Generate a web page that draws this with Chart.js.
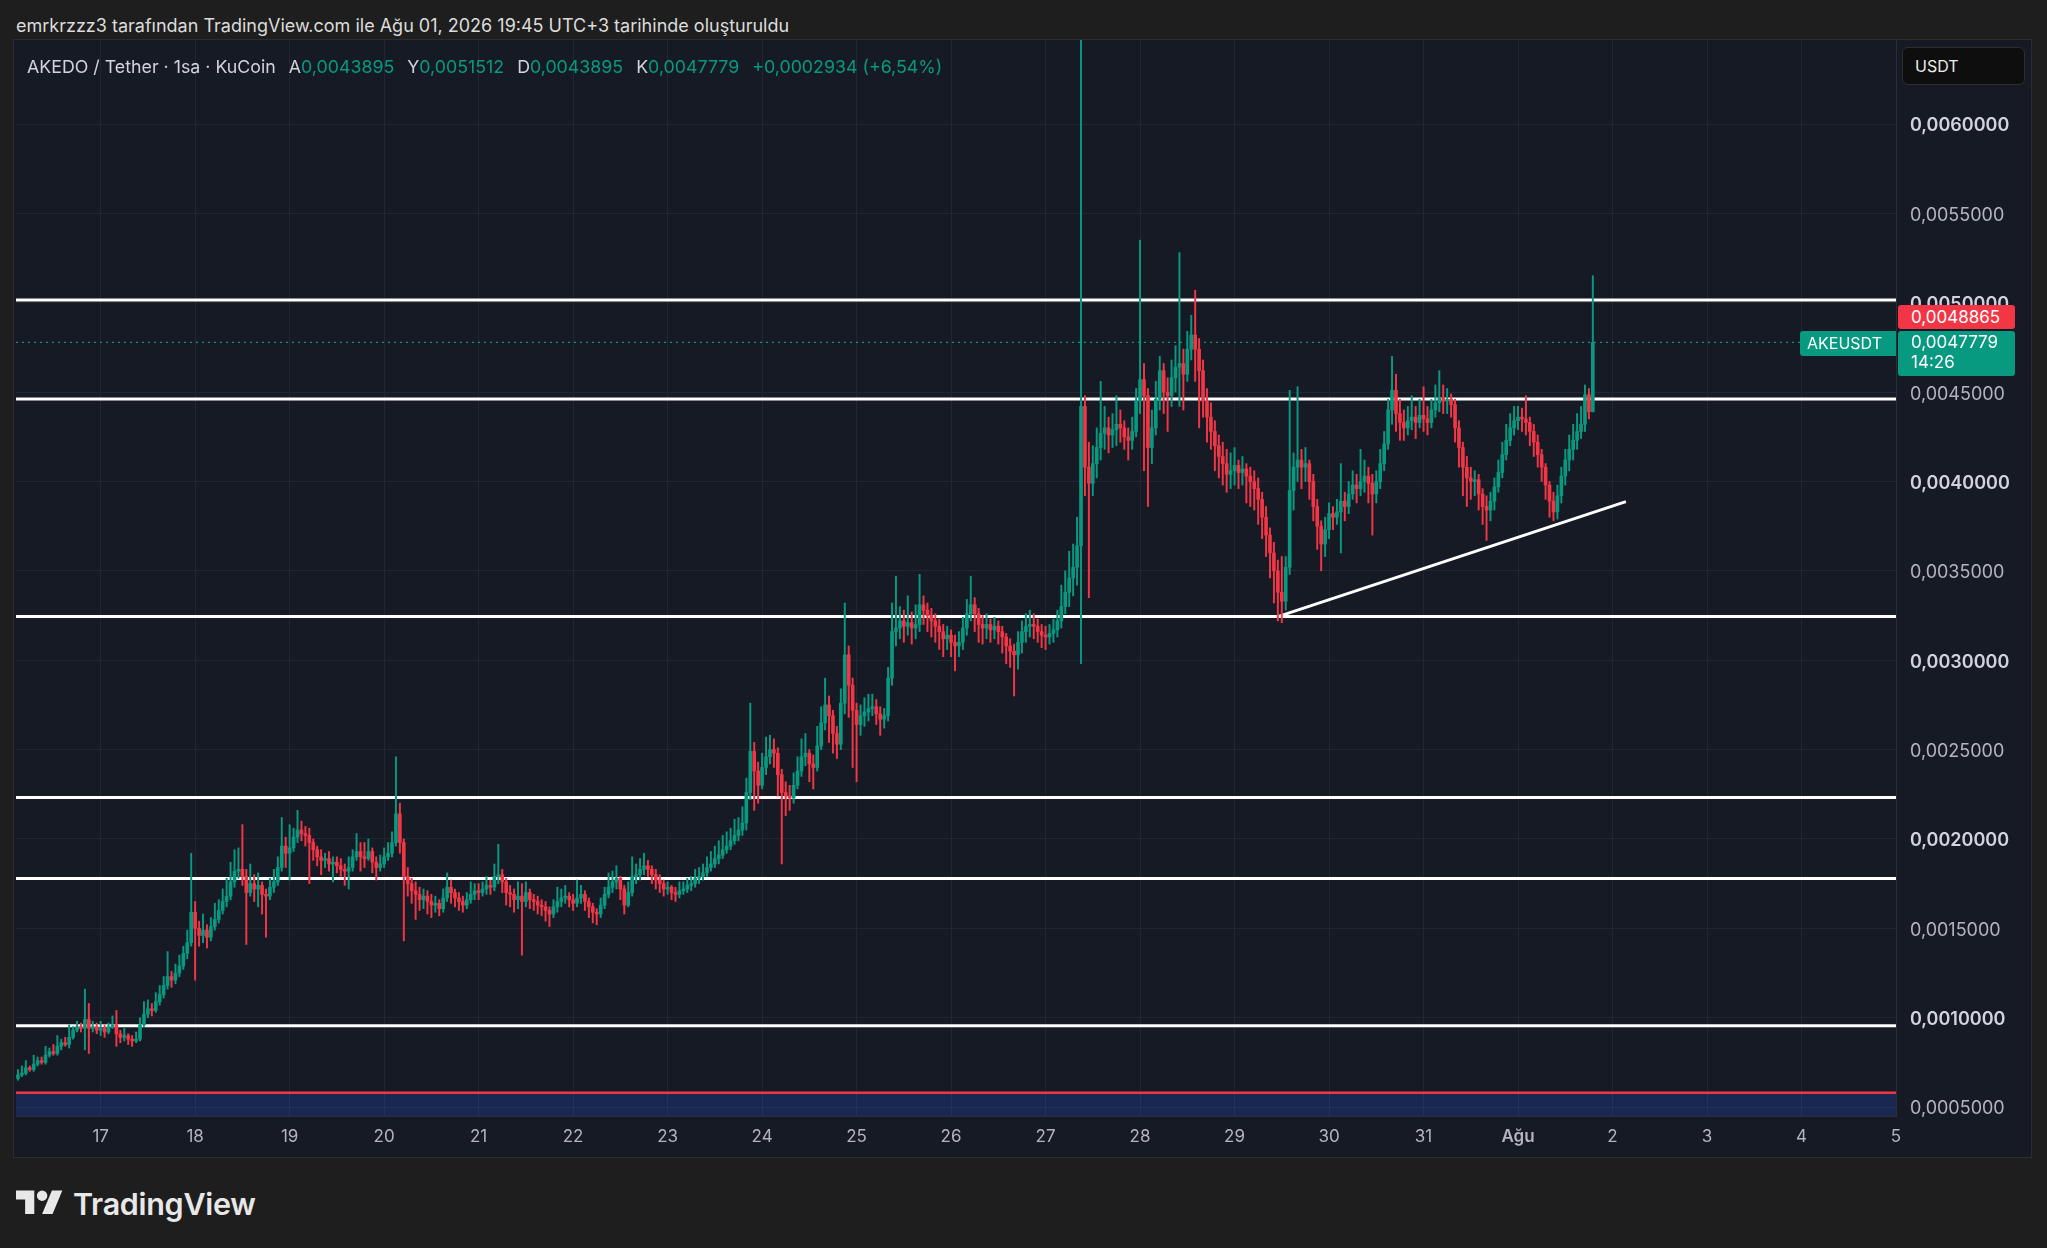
<!DOCTYPE html>
<html lang="tr">
<head>
<meta charset="utf-8">
<title>AKEDO / Tether · 1sa · KuCoin</title>
<script src="https://cdn.jsdelivr.net/npm/chart.js@4.4.1/dist/chart.umd.min.js"></script>
<style>
    html, body { margin: 0; padding: 0; width: 2047px; height: 1248px; overflow: hidden; background: #1e1e1e; font-family: Inter, "Noto Sans", sans-serif; }
    #title { position: absolute; left: 16px; top: 15px; font-size: 18px; line-height: 22px; color: #dcdcdc; white-space: nowrap; }
    #frame { position: absolute; left: 14px; top: 40px; width: 2017px; height: 1117px; background: #161a25; box-shadow: 0 0 0 1px #2c2c2c; }
    #chart { position: absolute; left: 0; top: 0; }
    #legend { position: absolute; left: 13px; top: 15px; font-size: 17.8px; line-height: 24px; color: #d1d4dc; white-space: nowrap; }
    #legend .v { color: #089981; }
    #legend .g { margin-left: 13px; }
    #unit { position: absolute; left: 1888px; top: 7px; width: 123px; height: 38px; box-sizing: border-box; background: #0e0e0e; border: 1px solid #2e2e2e; border-radius: 6px; color: #ececec; font-size: 16px; line-height: 36px; padding-left: 12px; }
    .tag { position: absolute; color: #ffffff; font-size: 17px; line-height: 20px; box-sizing: border-box; white-space: nowrap; }
    #tagMark { left: 1884px; width: 117px; height: 24px; background: #f23645; border-radius: 3px; padding: 2px 0 0 13px; }
    #tagLast { left: 1884px; width: 117px; height: 45px; background: #089981; border-radius: 3px; padding: 1px 0 0 13px; }
    #tagName { left: 1786px; width: 96px; height: 25px; background: #089981; border-radius: 3px 0 0 3px; padding: 2px 0 0 7px; font-size: 16px; }
    #logo { position: absolute; left: 16px; top: 1185px; height: 37px; display: flex; align-items: center; color: #e8e8e8; }
    #logo span { font-size: 30.5px; font-weight: 600; margin-left: 10px; letter-spacing: -0.3px; }
</style>
</head>
<body>
<div id="title">emrkrzzz3 tarafından TradingView.com ile Ağu 01, 2026 19:45 UTC+3 tarihinde oluşturuldu</div>
<div id="frame">
    <canvas id="chart" width="2017" height="1117"></canvas>
    <div id="legend">AKEDO / Tether · 1sa · KuCoin<span class="g">A</span><span class="v">0,0043895</span><span class="g">Y</span><span class="v">0,0051512</span><span class="g">D</span><span class="v">0,0043895</span><span class="g">K</span><span class="v">0,0047779</span><span class="g v">+0,0002934 (+6,54%)</span></div>
    <div id="unit">USDT</div>
    <div id="tagMark" class="tag">0,0048865</div>
    <div id="tagLast" class="tag">0,0047779<br>14:26</div>
    <div id="tagName" class="tag">AKEUSDT</div>
</div>
<div id="logo">
    <svg width="47" height="37" viewBox="0 0 36 28" fill="#e8e8e8"><path d="M14 22H7V11H0V4h14v18zM28 22h-8l7.5-18h8L28 22z"/><circle cx="20" cy="8" r="4"/></svg>
    <span>TradingView</span>
</div>

<script>
    "use strict";

    // hourly candles, x = hours since 16 Tem 00:00, prices in units of 1e-4 USDT
    var firstHour = 3;
    var firstOpen = 6.6;
    var priceUnit = 1e-4;

    var closes = [
        6.8, 6.9, 7.2, 7.1, 7.4, 7.6, 7.5, 7.9, 8.1, 8.0, 8.4, 8.6, 8.5, 8.9, 9.3, 9.5, 9.4, 9.9, 9.4, 9.5, 9.3,
        9.4, 9.2, 9.5, 9.6, 9.1, 8.9, 9.0, 8.8, 8.7, 8.8, 9.6, 10.2, 10.5, 10.4, 10.9, 11.3, 11.8, 12.3, 12.1, 12.5, 12.9, 13.6, 14.2, 15.9,
        15.0, 14.6, 14.9, 14.5, 15.1, 15.5, 16.0, 16.5, 16.8, 17.6, 18.2, 18.3, 17.9, 17.0, 17.5, 17.2, 17.4, 16.9, 16.8, 17.3, 17.6, 18.4, 19.6, 19.2,
        19.5, 20.1, 20.5, 20.3, 20.2, 19.8, 19.4, 19.0, 18.8, 18.9, 18.6, 18.7, 18.5, 18.3, 18.2, 18.4, 19.0, 19.3, 19.0, 18.9, 19.3, 18.7, 18.4, 18.6,
        19.0, 19.2, 19.8, 21.4, 19.8, 17.9, 17.5, 17.1, 16.9, 16.6, 16.8, 16.5, 16.3, 16.4, 16.1, 16.7, 17.3, 17.0, 16.7, 16.5, 16.3, 16.6, 16.9, 17.1,
        17.0, 17.2, 17.4, 17.3, 17.9, 18.0, 17.6, 17.0, 16.9, 16.6, 16.8, 16.5, 17.0, 16.6, 16.5, 16.3, 16.2, 16.0, 15.8, 16.2, 16.5, 16.7, 16.8, 16.6,
        16.4, 16.7, 16.9, 16.5, 16.2, 15.9, 15.8, 16.3, 16.9, 17.3, 17.6, 17.8, 17.2, 16.3, 17.0, 17.9, 18.0, 18.3, 18.5, 18.3, 18.0, 17.7, 17.5, 17.2,
        17.3, 17.0, 16.9, 17.1, 17.2, 17.4, 17.5, 17.8, 17.9, 18.1, 18.4, 18.6, 18.9, 19.1, 19.4, 19.6, 19.9, 20.2, 20.5, 20.9, 22.6, 24.9, 23.8, 23.0,
        24.0, 24.6, 25.0, 24.8, 23.6, 22.6, 22.4, 22.3, 23.0, 23.8, 24.6, 24.8, 24.2, 24.0, 25.2, 26.5, 27.5, 26.9, 25.9, 25.3, 27.6, 30.3, 28.6, 27.2,
        26.4, 26.9, 27.1, 27.3, 27.4, 27.0, 26.7, 26.9, 29.0, 31.6, 31.8, 32.2, 31.9, 32.1, 31.8, 32.0, 33.1, 32.8, 32.5, 32.2, 31.9, 31.6, 31.2, 31.4,
        31.0, 30.8, 31.0, 31.8, 32.6, 33.1, 32.6, 32.0, 31.8, 32.0, 31.7, 31.9, 31.6, 31.3, 30.8, 30.5, 30.3, 31.0, 31.6, 31.9, 32.0, 31.9, 31.6, 31.4,
        31.3, 31.5, 31.7, 32.2, 33.0, 33.8, 34.6, 35.2, 36.4, 44.2, 40.8, 39.9, 41.0, 41.9, 42.7, 43.0, 42.6, 42.9, 43.2, 43.0, 42.5, 42.3, 42.8, 44.5,
        45.7, 44.8, 41.9, 43.0, 44.6, 46.2, 45.0, 44.8, 45.8, 46.4, 46.6, 46.0, 47.4, 48.2, 47.4, 46.2, 44.5, 43.6, 42.8, 42.0, 41.4, 41.0, 40.4, 40.6,
        40.9, 40.5, 40.7, 40.3, 40.0, 39.6, 39.0, 38.0, 37.0, 36.0, 35.0, 33.8, 33.3, 35.2, 39.5, 40.8, 41.2, 40.8, 41.0, 40.0, 38.6, 37.5, 36.5, 37.3,
        38.2, 38.0, 38.3, 38.9, 38.6, 39.3, 39.8, 39.6, 40.0, 40.3, 39.9, 39.3, 40.0, 41.0, 42.1, 44.0, 45.1, 43.8, 43.3, 43.0, 43.4, 43.6, 43.3, 43.7,
        43.5, 43.3, 44.0, 44.4, 44.7, 44.5, 44.6, 44.3, 43.0, 41.9, 40.8, 40.2, 40.0, 40.1, 39.3, 38.6, 38.4, 38.9, 39.7, 40.5, 41.5, 42.3, 43.0, 43.4,
        43.6, 43.5, 43.3, 42.8, 42.2, 41.5, 40.8, 39.8, 38.9, 38.3, 39.2, 40.3, 41.2, 41.8, 42.3, 42.8, 43.2, 44.85, 43.9, 47.779
    ];

    var highs = [
        7.1, 7.3, 7.6, 7.3, 7.9, 7.8, 7.8, 8.4, 8.3, 8.5, 9.0, 8.8, 8.9, 9.6, 9.5, 9.8, 9.7, 11.6, 10.8, 9.8, 9.7,
        9.8, 9.6, 9.7, 10.1, 10.4, 9.3, 9.4, 9.1, 9.0, 9.2, 10.0, 10.9, 11.0, 10.8, 11.4, 11.8, 12.3, 13.7, 12.6, 13.0, 13.5, 14.0, 14.9, 19.2,
        16.5, 15.4, 15.8, 15.2, 15.6, 16.4, 16.6, 17.2, 17.8, 18.7, 19.4, 19.5, 20.8, 18.3, 18.6, 18.0, 18.1, 17.6, 17.2, 17.8, 18.3, 19.0, 21.2, 20.1,
        20.8, 20.6, 21.6, 21.0, 20.7, 20.6, 20.0, 19.6, 19.4, 19.2, 19.3, 19.0, 19.0, 18.9, 18.6, 19.0, 19.4, 20.3, 19.8, 19.8, 20.0, 19.5, 19.0, 19.1,
        19.5, 19.8, 20.4, 24.6, 22.0, 20.0, 18.4, 17.8, 17.6, 17.3, 17.2, 17.1, 16.9, 16.8, 16.6, 17.2, 18.1, 17.7, 17.2, 17.0, 16.8, 17.0, 17.6, 17.5,
        17.5, 17.6, 17.9, 17.7, 18.6, 19.7, 18.3, 17.8, 17.4, 17.2, 17.6, 17.5, 17.6, 17.2, 16.9, 16.8, 16.6, 16.5, 16.2, 16.6, 17.3, 17.2, 17.4, 17.0,
        16.9, 17.7, 17.4, 17.1, 16.7, 16.4, 16.1, 16.7, 17.3, 18.1, 18.2, 18.5, 17.9, 17.4, 17.6, 19.0, 18.6, 18.9, 19.2, 18.8, 18.5, 18.3, 18.0, 17.7,
        17.6, 17.4, 17.3, 17.6, 17.6, 17.8, 17.9, 18.3, 18.4, 18.6, 19.0, 19.3, 19.6, 19.9, 20.2, 20.4, 20.6, 21.1, 21.2, 21.8, 23.4, 27.6, 25.4, 24.3,
        24.8, 25.7, 25.8, 25.6, 25.1, 23.9, 23.2, 23.0, 23.7, 24.6, 25.6, 25.9, 25.0, 24.7, 26.3, 27.4, 29.0, 28.0, 27.2, 26.3, 28.4, 33.2, 30.8, 29.0,
        27.6, 27.5, 27.9, 28.1, 28.1, 27.8, 27.4, 27.3, 29.6, 33.2, 34.7, 33.0, 32.8, 33.6, 32.7, 33.1, 34.8, 33.6, 33.2, 32.9, 32.6, 32.3, 32.0, 31.9,
        31.7, 31.4, 31.6, 32.4, 33.4, 34.7, 33.5, 32.9, 32.5, 32.6, 32.3, 32.4, 32.2, 31.9, 31.5, 31.2, 30.9, 31.6, 32.2, 32.6, 32.8, 32.6, 32.3, 32.0,
        31.9, 32.0, 32.3, 32.8, 34.2, 35.0, 36.1, 36.5, 38.0, 70.0, 44.8, 42.2, 42.0, 43.0, 45.6, 44.2, 43.6, 43.8, 44.8, 44.0, 43.4, 43.0, 43.6, 45.2,
        53.5, 46.6, 45.2, 44.0, 45.6, 47.0, 46.6, 45.8, 46.8, 47.6, 52.8, 47.4, 48.4, 49.3, 50.7, 48.0, 46.8, 45.2, 44.4, 43.4, 42.6, 42.2, 41.8, 41.6,
        41.9, 41.2, 41.4, 41.0, 40.8, 40.6, 40.2, 39.4, 38.6, 37.4, 36.6, 35.6, 35.8, 35.8, 45.1, 41.6, 45.3, 41.8, 41.9, 41.2, 40.4, 39.0, 37.8, 38.0,
        38.8, 38.6, 39.0, 41.0, 39.4, 40.0, 40.6, 40.4, 41.8, 41.2, 40.8, 40.4, 40.6, 41.8, 42.8, 44.6, 47.0, 46.0, 44.6, 44.0, 44.2, 44.8, 44.2, 44.6,
        45.3, 44.2, 44.6, 45.4, 46.2, 45.4, 45.2, 44.9, 44.6, 43.4, 42.2, 41.4, 40.8, 40.6, 40.4, 39.6, 39.2, 39.4, 40.2, 41.2, 42.2, 43.2, 43.8, 44.2,
        44.2, 44.1, 44.8, 43.6, 43.2, 42.6, 41.8, 41.0, 40.0, 39.4, 39.8, 40.8, 41.8, 42.6, 43.2, 43.8, 44.2, 45.4, 45.2, 51.512
    ];

    var lows = [
        6.5, 6.7, 6.8, 7.0, 7.0, 7.3, 7.4, 7.4, 7.8, 7.9, 7.9, 8.2, 8.4, 8.3, 8.8, 9.2, 9.2, 8.2, 8.0, 9.2, 9.1,
        9.0, 8.9, 9.1, 9.4, 8.4, 8.6, 8.7, 8.5, 8.4, 8.6, 8.7, 9.5, 10.0, 10.1, 10.3, 10.7, 11.1, 11.6, 11.7, 11.9, 12.3, 12.7, 13.3, 14.0,
        12.1, 14.0, 14.2, 13.9, 14.3, 14.9, 15.3, 15.8, 16.2, 16.6, 17.3, 17.8, 17.4, 14.1, 16.8, 16.5, 16.2, 15.8, 14.5, 16.6, 17.0, 17.4, 18.2, 18.4,
        17.7, 19.3, 19.8, 19.9, 19.6, 17.5, 18.8, 18.5, 18.0, 18.4, 18.2, 17.6, 18.1, 17.9, 17.4, 17.2, 18.2, 18.8, 18.2, 18.4, 18.8, 18.1, 17.7, 18.2,
        18.4, 18.8, 19.0, 19.6, 19.2, 14.3, 16.8, 16.4, 15.5, 16.0, 16.1, 15.8, 15.6, 15.9, 15.7, 15.9, 16.5, 16.4, 16.2, 16.0, 15.9, 16.1, 16.4, 16.6,
        16.6, 16.8, 16.9, 16.9, 17.1, 17.5, 17.0, 16.3, 16.2, 15.9, 16.1, 13.5, 16.2, 16.1, 16.0, 15.8, 15.7, 15.4, 15.1, 15.6, 15.9, 16.2, 16.4, 16.2,
        16.0, 16.2, 16.4, 16.0, 15.6, 15.3, 15.2, 15.6, 16.1, 16.7, 17.0, 17.2, 16.6, 15.8, 16.2, 16.8, 17.5, 17.7, 18.0, 17.9, 17.5, 17.2, 17.0, 16.8,
        16.9, 16.6, 16.5, 16.7, 16.9, 17.0, 17.1, 17.3, 17.5, 17.7, 17.9, 18.2, 18.4, 18.6, 18.9, 19.2, 19.4, 19.7, 19.9, 20.2, 20.5, 22.2, 21.6, 22.0,
        22.8, 23.6, 24.2, 24.0, 22.4, 18.6, 21.3, 21.6, 22.0, 22.8, 23.5, 24.1, 23.2, 22.8, 23.8, 25.0, 26.1, 25.4, 24.8, 24.5, 25.0, 27.0, 26.8, 24.0,
        23.2, 25.8, 26.3, 26.6, 26.9, 26.4, 25.8, 26.2, 26.6, 28.6, 30.8, 31.2, 31.0, 31.4, 30.9, 31.2, 31.6, 32.0, 31.6, 31.3, 31.0, 30.6, 30.2, 30.6,
        30.2, 29.4, 30.2, 30.6, 31.4, 32.2, 31.6, 31.0, 30.9, 31.2, 31.0, 31.2, 30.9, 30.4, 29.8, 29.6, 28.0, 29.5, 30.4, 31.0, 31.3, 31.2, 31.0, 30.7,
        30.6, 30.9, 31.0, 31.3, 31.8, 32.6, 33.0, 33.6, 34.2, 29.8, 39.2, 33.5, 39.2, 40.2, 41.2, 41.8, 41.6, 41.9, 42.0, 42.2, 41.8, 41.2, 41.8, 42.5,
        43.8, 40.6, 38.6, 41.0, 42.6, 44.0, 43.8, 42.8, 44.2, 45.0, 44.2, 44.0, 45.6, 46.8, 45.6, 43.0, 43.6, 42.2, 41.8, 40.6, 40.2, 39.8, 39.4, 39.6,
        39.8, 39.6, 39.8, 38.8, 38.6, 38.4, 37.6, 36.8, 35.8, 34.6, 33.2, 32.2, 32.1, 32.8, 34.8, 38.4, 40.0, 39.6, 40.0, 39.0, 37.8, 36.2, 35.0, 35.8,
        36.8, 37.3, 37.6, 36.0, 37.8, 38.2, 39.0, 38.8, 39.2, 39.4, 38.8, 37.0, 38.8, 39.6, 40.6, 41.8, 43.2, 42.8, 42.3, 42.3, 42.6, 42.9, 42.4, 43.0,
        42.8, 42.6, 43.0, 43.6, 43.9, 43.8, 43.8, 43.6, 42.2, 40.8, 39.2, 38.6, 39.0, 39.2, 38.4, 37.6, 36.7, 37.8, 38.4, 39.4, 40.2, 41.2, 42.0, 42.6,
        42.9, 42.8, 42.6, 42.0, 41.4, 40.8, 40.0, 39.0, 38.0, 37.8, 37.9, 38.8, 39.8, 40.6, 41.2, 41.8, 42.4, 42.8, 43.5, 43.895
    ];

    var dayTicks = [24, 48, 72, 96, 120, 144, 168, 192, 216, 240, 264, 288, 312, 336, 360, 384, 408, 432, 456, 480];
    var dayLabels = ['17', '18', '19', '20', '21', '22', '23', '24', '25', '26', '27', '28', '29', '30', '31', 'Ağu', '2', '3', '4', '5'];
    var priceTicks = [0.0005, 0.001, 0.0015, 0.002, 0.0025, 0.003, 0.0035, 0.004, 0.0045, 0.005, 0.0055, 0.006];

    // drawings (1e-4 units)
    var levels = [50.15, 44.62, 32.45, 22.32, 17.79, 9.55];
    var supportLevel = 5.8;
    var trendLine = [[323.2, 32.45], [411.4, 38.87]];
    var lastPrice = 47.779;
    var markPrice = 48.865;

    var xMin = 2.5, xMax = 480;
    var upColor = '#089981', downColor = '#f23645';
    var gridColor = '#222631';
    var fontFamily = 'Inter, "Noto Sans", sans-serif';

    var bodies = [], wicks = [], colors = [];
    var prev = firstOpen;
    for (var i = 0; i < closes.length; i++) {
        var h = firstHour + i;
        bodies.push({x: h, y: [prev * priceUnit, closes[i] * priceUnit]});
        wicks.push({x: h, y: [lows[i] * priceUnit, highs[i] * priceUnit]});
        colors.push(closes[i] >= prev ? upColor : downColor);
        prev = closes[i];
    }

    function hLine(value, color, width, extra) {
        var ds = {
            type: 'line',
            data: [{x: xMin, y: value * priceUnit}, {x: xMax, y: value * priceUnit}],
            borderColor: color,
            borderWidth: width,
            pointRadius: 0,
            fill: false,
            order: 2
        };
        for (var k in extra) ds[k] = extra[k];
        return ds;
    }

    var datasets = [
        {type: 'bar', data: bodies, backgroundColor: colors, barThickness: 3, minBarLength: 1, grouped: false, order: 0},
        {type: 'bar', data: wicks, backgroundColor: colors, barThickness: 1.3, grouped: false, order: 1}
    ];
    levels.forEach(function (lv) {
        datasets.push(hLine(lv, '#ffffff', 3));
    });
    datasets.push(hLine(supportLevel, '#f23645', 2.5, {fill: 'start', backgroundColor: 'rgba(41, 98, 255, 0.2)', order: 3}));
    datasets.push(hLine(lastPrice, upColor, 1.2, {borderDash: [2, 4]}));
    datasets.push({
        type: 'line',
        data: trendLine.map(function (p) { return {x: p[0], y: p[1] * priceUnit}; }),
        borderColor: '#ffffff', borderWidth: 3, pointRadius: 0, fill: false, order: 2
    });

    // price tags on the right axis follow the y scale
    var tagPlugin = {
        id: 'priceTags',
        afterDraw: function (chart) {
            var y = chart.scales.y;
            var lastTop = y.getPixelForValue(lastPrice * priceUnit) - 11;
            document.getElementById('tagLast').style.top = lastTop + 'px';
            document.getElementById('tagName').style.top = lastTop + 'px';
            var markTop = Math.min(y.getPixelForValue(markPrice * priceUnit) - 12, lastTop - 26);
            document.getElementById('tagMark').style.top = markTop + 'px';
        }
    };

    function isMajor(v) {
        return Math.round(v * 1e4) % 10 === 0;
    }

    // no extra room for edge labels, the plot fills the frame
    function noPadding(s) {
        s.paddingTop = 0;
        s.paddingBottom = 0;
        s.paddingLeft = 0;
        s.paddingRight = 0;
    }

    var ctx = document.getElementById('chart').getContext('2d');
    var chart = new Chart(ctx, {
        type: 'bar',
        data: {datasets: datasets},
        options: {
            responsive: false,
            animation: false,
            events: [],
            layout: {padding: {left: 2, top: 0, right: 0, bottom: 0}},
            plugins: {
                legend: {display: false},
                tooltip: {enabled: false}
            },
            scales: {
                x: {
                    type: 'linear',
                    min: xMin,
                    max: xMax,
                    offset: false,
                    afterBuildTicks: function (s) {
                        s.ticks = dayTicks.map(function (v) { return {value: v}; });
                    },
                    afterFit: function (s) { s.height = 41; noPadding(s); },
                    grid: {color: gridColor, drawTicks: false, offset: false},
                    border: {color: '#2a2e39'},
                    ticks: {
                        padding: 11,
                        autoSkip: false,
                        maxRotation: 0,
                        color: '#b2b5be',
                        callback: function (v) { return dayLabels[dayTicks.indexOf(v)]; },
                        font: function (c) {
                            var major = c.tick && c.tick.value === 384;
                            return {family: fontFamily, size: 17, weight: major ? '600' : '400'};
                        }
                    }
                },
                y: {
                    type: 'linear',
                    position: 'right',
                    min: 0.00045,
                    max: 0.00647,
                    afterBuildTicks: function (s) {
                        s.ticks = priceTicks.map(function (v) { return {value: v}; });
                    },
                    afterFit: function (s) { s.width = 135; noPadding(s); },
                    grid: {color: gridColor, drawTicks: false},
                    border: {color: '#2a2e39'},
                    ticks: {
                        padding: 14,
                        labelOffset: 2,
                        autoSkip: false,
                        callback: function (v) { return v.toFixed(7).replace('.', ','); },
                        color: function (c) { return c.tick && isMajor(c.tick.value) ? '#d1d4dc' : '#b2b5be'; },
                        font: function (c) {
                            var major = c.tick && isMajor(c.tick.value);
                            return {family: fontFamily, size: 18, weight: major ? '600' : '400'};
                        }
                    }
                }
            }
        },
        plugins: [tagPlugin]
    });
</script>
</body>
</html>
